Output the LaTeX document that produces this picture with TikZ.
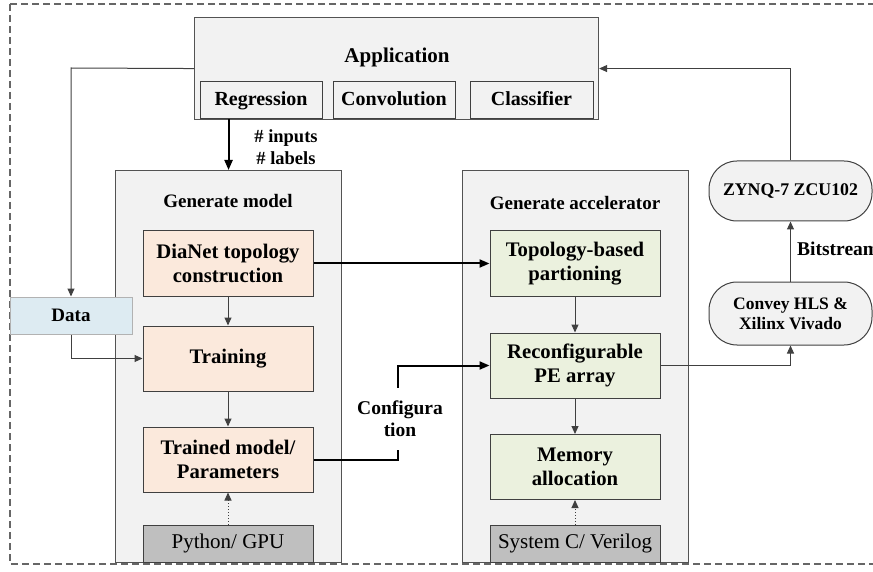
\documentclass[tikz,border=0pt]{standalone}
\usepackage{fontspec}
\setmainfont{Liberation Serif}
\usetikzlibrary{arrows.meta}

\definecolor{panelfill}{HTML}{F2F2F2}
\definecolor{peach}{HTML}{FBE9DC}
\definecolor{sage}{HTML}{EBF1DE}
\definecolor{datablue}{HTML}{DDEBF2}
\definecolor{toolgray}{HTML}{BFBFBF}
\definecolor{edge}{HTML}{404040}

\begin{document}
\begin{tikzpicture}[x=1pt,y=-1pt,
  panel/.style={draw=edge!90, fill=panelfill, line width=1.1pt, inner sep=0pt, anchor=north west},
  tab/.style={draw=edge, fill=panelfill, line width=1pt, inner sep=0pt,
    minimum height=37pt, text height=14pt, text depth=4pt,
    font=\fontsize{20}{24}\selectfont\bfseries},
  stepbox/.style={draw=edge, line width=1pt, inner sep=0pt, align=center,
    minimum width=170pt, minimum height=65pt, font=\fontsize{20.7}{24}\selectfont\bfseries},
  toolbox/.style={draw=edge, fill=toolgray, line width=1pt, inner sep=0pt,
    minimum width=170pt, minimum height=37pt, text height=14pt, text depth=5pt,
    font=\fontsize{21}{24}\selectfont},
  pill/.style={draw=edge, fill=panelfill, line width=1pt, inner sep=0pt, align=center,
    minimum width=163pt, rounded corners=28pt, font=\fontsize{17.5}{20}\selectfont\bfseries},
  heading/.style={font=\fontsize{19}{22}\selectfont\bfseries, inner sep=0pt},
  note/.style={font=\fontsize{18.5}{22}\selectfont\bfseries, align=center, inner sep=0pt},
  thin/.style={draw=edge, line width=1pt, -{Triangle[length=8pt,width=7pt]}},
  bold/.style={draw=black, line width=2pt, -{Triangle[length=10pt,width=8pt]}},
  boldline/.style={draw=black, line width=2pt},
  dotarrow/.style={draw=edge, line width=1pt, dotted, -{Triangle[length=8pt,width=7pt]}}
]
\useasboundingbox (0,0) rectangle (873,572);

% outer dashed frame
\draw[draw=black!60, line width=1.3pt, dash pattern=on 7pt off 4pt] (10,4) rectangle (900,564);

% application block with its three tabs
\node[panel, minimum width=404pt, minimum height=102pt] (app) at (194,17) {};
\node[heading, font=\fontsize{21}{24}\selectfont\bfseries] (apptitle) at (397,57) {Application};
\node[tab, minimum width=122pt] (reg) at (261,100.5) {Regression};
\node[tab, minimum width=122pt] (conv) at (394,100.5) {Convolution};
\node[tab, minimum width=123pt] (cls) at (531.5,100.5) {Classifier};

% model generation panel
\node[panel, minimum width=226pt, minimum height=392pt] (genm) at (115,170) {};
\node[heading] (genmtitle) at (228,201) {Generate model};
\node[stepbox, fill=peach] (topo) at (228,263.5) {DiaNet topology\\construction};
\node[stepbox, fill=peach] (train) at (228,358.5) {Training};
\node[stepbox, fill=peach] (trained) at (228,459.5) {Trained model/\\Parameters};
\node[toolbox] (python) at (228,543.5) {Python/ GPU};

% accelerator generation panel
\node[panel, minimum width=226pt, minimum height=392pt] (gena) at (462,170) {};
\node[heading] (genatitle) at (575,203) {Generate accelerator};
\node[stepbox, fill=sage] (part) at (575,263.5) {Topology-based\\partioning};
\node[stepbox, fill=sage] (pe) at (575,365.5) {Reconfigurable\\PE array};
\node[stepbox, fill=sage] (mem) at (575,467) {Memory\\allocation};
\node[toolbox] (sysc) at (575,543.5) {System C/ Verilog};

% data source
\node[draw=black!30, fill=datablue, line width=1pt, inner sep=0pt,
  minimum width=122pt, minimum height=37pt,
  font=\fontsize{19}{22}\selectfont\bfseries] (data) at (71,315.5) {Data};

% synthesis and board
\node[pill, minimum height=63pt] (convey) at (790.5,313.5) {Convey HLS \&\\Xilinx Vivado};
\node[pill, minimum height=60pt, font=\fontsize{17.8}{20}\selectfont\bfseries] (zynq) at (790.5,191) {ZYNQ-7 ZCU102};

% labels on connectors
\node[note] (io) at (286,147) {\# inputs\\\# labels};
\node[note, minimum height=62pt, font=\fontsize{19.5}{22}\selectfont\bfseries] (config) at (400,419) {Configura\\tion};
\node[heading, anchor=west, font=\fontsize{19.5}{22}\selectfont\bfseries] (bits) at (797,249) {Bitstream};

% connectors
\draw[bold] (reg.south -| genm.north) -- (genm.north);
\coordinate (appleft) at (71,68);
\draw[thin] (app.west) -- (appleft) -- (data.north);
\draw[thin] (data.south) |- (train.west);
\draw[thin] (topo.south) -- (train.north);
\draw[thin] (train.south) -- (trained.north);
\draw[dotarrow] (python.north) -- (trained.south);
\draw[bold] (topo.east) -- (part.west);
\draw[boldline] (trained.east) -| ([xshift=-2pt]config.south);
\draw[bold] ([xshift=-2pt]config.north) |- (pe.west);
\draw[thin] (part.south) -- (pe.north);
\draw[thin] (pe.south) -- (mem.north);
\draw[dotarrow] (sysc.north) -- (mem.south);
\draw[thin] (pe.east) -| (convey.south);
\draw[thin] (convey.north) -- (zynq.south);
\draw[thin] (zynq.north) |- (app.east);
\end{tikzpicture}
\end{document}
